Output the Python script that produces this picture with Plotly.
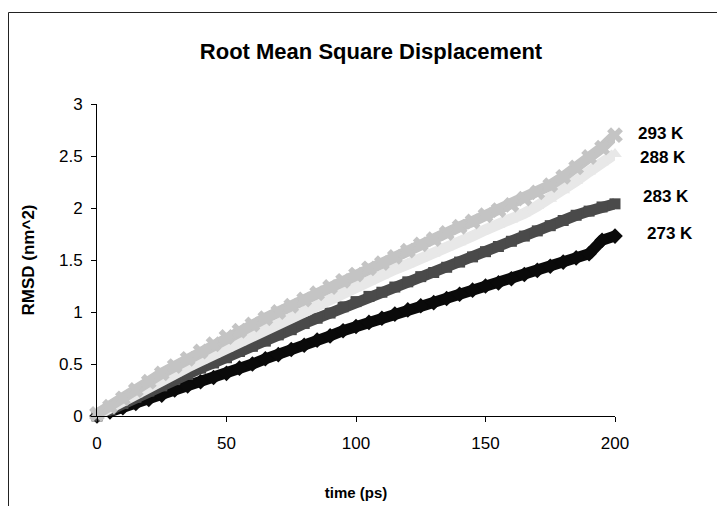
import plotly.graph_objects as go

time_ps = [0, 5, 10, 15, 20, 25, 30, 35, 40, 45, 50, 55, 60, 65, 70, 75, 80, 85, 90, 95, 100,
           105, 110, 115, 120, 125, 130, 135, 140, 145, 150, 155, 160, 165, 170, 175, 180, 185, 190, 195, 200]

rmsd_273 = [0.00, 0.04, 0.08, 0.12, 0.16, 0.20, 0.25, 0.29, 0.33, 0.37, 0.41, 0.46, 0.50, 0.55, 0.59, 0.64,
            0.68, 0.73, 0.77, 0.82, 0.86, 0.90, 0.94, 0.98, 1.02, 1.06, 1.09, 1.13, 1.17, 1.21, 1.25, 1.28,
            1.32, 1.36, 1.40, 1.44, 1.48, 1.52, 1.56, 1.69, 1.73]
rmsd_283 = [0.00, 0.06, 0.12, 0.18, 0.24, 0.29, 0.35, 0.40, 0.46, 0.51, 0.56, 0.62, 0.67, 0.72, 0.78, 0.83,
            0.89, 0.94, 0.99, 1.05, 1.10, 1.15, 1.19, 1.24, 1.29, 1.34, 1.38, 1.43, 1.48, 1.53, 1.58, 1.63,
            1.68, 1.73, 1.78, 1.83, 1.88, 1.93, 1.97, 2.01, 2.04]
rmsd_288 = [0.01, 0.08, 0.15, 0.21, 0.28, 0.35, 0.41, 0.47, 0.53, 0.59, 0.65, 0.71, 0.77, 0.83, 0.89, 0.95,
            1.01, 1.07, 1.12, 1.18, 1.24, 1.29, 1.35, 1.41, 1.46, 1.51, 1.56, 1.62, 1.67, 1.73, 1.79, 1.84,
            1.89, 1.95, 2.02, 2.09, 2.17, 2.26, 2.35, 2.44, 2.52]
rmsd_293 = [0.02, 0.09, 0.17, 0.25, 0.33, 0.41, 0.48, 0.55, 0.62, 0.69, 0.76, 0.82, 0.88, 0.94, 1.00, 1.06,
            1.12, 1.18, 1.24, 1.30, 1.36, 1.42, 1.47, 1.53, 1.59, 1.65, 1.70, 1.76, 1.82, 1.87, 1.93, 1.98,
            2.03, 2.09, 2.15, 2.22, 2.30, 2.39, 2.49, 2.58, 2.70]

series_names = ["273 K", "283 K", "288 K", "293 K"]
series_values = [rmsd_273, rmsd_283, rmsd_288, rmsd_293]
colors = ["#0a0a0a", "#4a4a4a", "#e8e8e8", "#c4c4c4"]
symbols = ["diamond", "square", "triangle-up", "x"]
widths = [11, 11, 11, 11]
msizes = [12, 11, 12, 14]

# figure is placed 8px inside the page (body margin); screen coords -> figure coords
OFF = 8
W, H = 725 - OFF, 506 - OFF
PX0, PX1, PY0, PY1 = 97, 615, 104, 416          # plot area in screen pixels
L, T = PX0 - OFF, PY0 - OFF
R, B = W - (PX1 - OFF), H - (PY1 - OFF)
pw, ph = PX1 - PX0, PY1 - PY0

def px_x(sx):
    return (sx - PX0) / pw

def px_y(sy):
    return (PY1 - sy) / ph

fig = go.Figure()
for name, vals, c, s, w, ms in zip(series_names, series_values, colors, symbols, widths, msizes):
    fig.add_trace(go.Scatter(
        x=time_ps, y=vals, name=name, mode="lines+markers",
        line=dict(color=c, width=w),
        marker=dict(symbol=s, color=c, size=ms, line=dict(width=0)),
        showlegend=False, cliponaxis=False,
    ))

label_pos = {"293 K": (661, 133.5), "288 K": (663, 157), "283 K": (666, 196), "273 K": (669.5, 233)}
for name in series_names:
    x, y = label_pos[name]
    fig.add_annotation(x=px_x(x), y=px_y(y), xref="paper", yref="paper", text=f"<b>{name}</b>",
                       xanchor="center", yanchor="middle", showarrow=False,
                       font=dict(family="Liberation Sans, Arial", size=17, color="black"))

# chart frame (extends past the right and bottom edges of the window)
fig.add_shape(type="rect", xref="paper", yref="paper",
              x0=px_x(OFF + 0.5), x1=px_x(760), y0=px_y(12.5), y1=px_y(540),
              line=dict(color="#222222", width=1), fillcolor="rgba(0,0,0,0)", layer="below")

tick_font = dict(family="Liberation Sans, Arial", size=17, color="black")
fig.update_layout(
    width=W, height=H,
    margin=dict(l=L, r=R, t=T, b=B),
    paper_bgcolor="white", plot_bgcolor="white",
    title=dict(text="<b>Root Mean Square Displacement</b>", x=(371 - OFF) / W, xref="container",
               xanchor="center", y=1 - (51 - OFF) / H, yref="container", yanchor="middle",
               font=dict(family="Liberation Sans, Arial", size=22, color="black")),
    xaxis=dict(range=[0, 200], tickvals=[0, 50, 100, 150, 200], showgrid=False, zeroline=False,
               showline=True, linecolor="black", linewidth=1, ticks="outside", ticklen=5,
               tickcolor="black", tickfont=tick_font, ticklabelstandoff=7, automargin=False,
               title=dict(text="<b>time (ps)</b>", font=dict(family="Liberation Sans, Arial", size=15, color="black"),
                          standoff=35)),
    yaxis=dict(range=[0, 3], tickvals=[0, 0.5, 1, 1.5, 2, 2.5, 3], ticktext=["0", "0.5", "1", "1.5", "2", "2.5", "3"],
               showgrid=False, zeroline=False, showline=True, linecolor="black", linewidth=1,
               ticks="outside", ticklen=5, tickcolor="black", tickfont=tick_font, ticklabelstandoff=5,
               automargin=False,
               title=dict(text="<b>RMSD (nm^2)</b>", font=dict(family="Liberation Sans, Arial", size=17, color="black"),
                          standoff=20)),
    font=dict(family="Liberation Sans, Arial"),
)

fig.write_html("out.html")
